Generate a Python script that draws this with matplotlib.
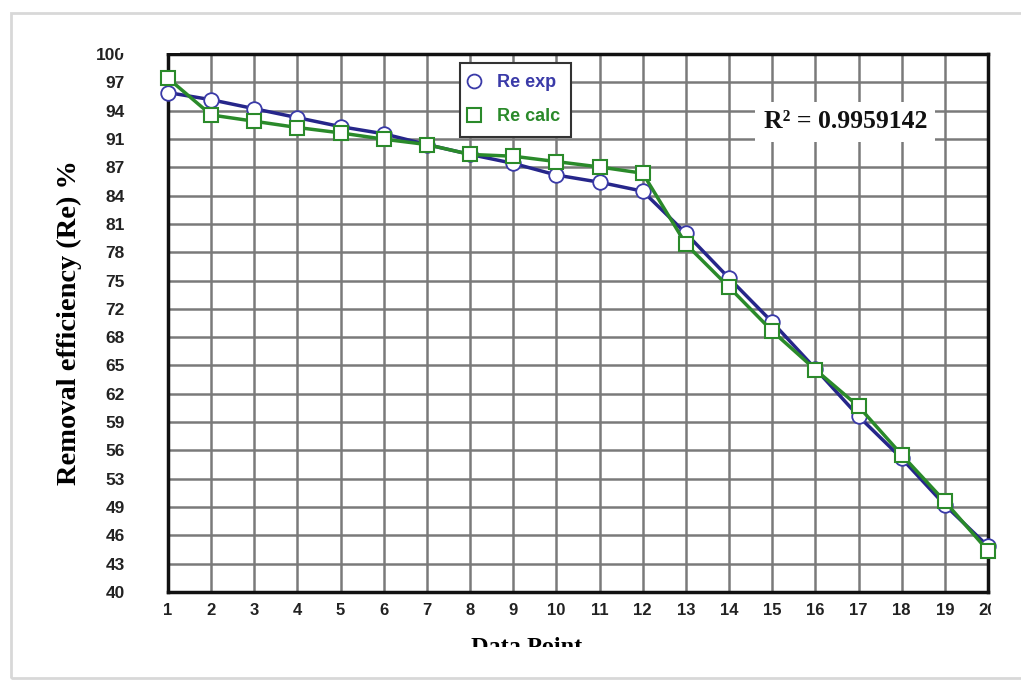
import matplotlib
matplotlib.use('Agg')
import numpy as np
from matplotlib import pyplot as plt
from matplotlib.lines import Line2D
from matplotlib.patches import Rectangle

points = list(range(1, 21))
re_exp = [95.7, 94.9, 93.9, 92.9, 91.9, 91.1, 89.9, 88.8, 87.8, 86.5,
          85.7, 84.7, 80.0, 75.0, 70.1, 64.9, 59.6, 54.9, 49.7, 45.1]
re_calc = [97.3, 93.2, 92.5, 91.8, 91.2, 90.5, 89.9, 88.8, 88.6, 88.0,
           87.4, 86.7, 78.8, 74.0, 69.1, 64.8, 60.7, 55.3, 50.1, 44.6]
ytick_vals = np.linspace(40, 100, 20)
ytick_labels = ['40', '43', '46', '49', '53', '56', '59', '62', '65', '68',
                '72', '75', '78', '81', '84', '87', '91', '94', '97', '100']
r2_text = 'R\u00b2 = 0.9959142'

blue = '#26268a'
green = '#2a8a2a'
sans = ['Liberation Sans', 'DejaVu Sans']
serif = ['Liberation Serif', 'DejaVu Serif']

fig = plt.figure(figsize=(10.21, 6.82), dpi=100)
W, H = 1021, 682
ax = fig.add_axes([168 / W, 1 - 592 / H, (988 - 168) / W, (592 - 54) / H])

ax.plot(points, re_exp, color=blue, lw=2.5, marker='o', ms=10.5,
        mfc='white', mec='#3a3aa8', mew=1.3, zorder=3, clip_on=False)
ax.plot(points, re_calc, color=green, lw=2.5, marker='s', ms=9.5,
        mfc='white', mec=green, mew=1.5, zorder=4, clip_on=False)

ax.set_xlim(1, 20)
ax.set_ylim(40, 100)
ax.set_xticks(points)
ax.set_xticklabels([str(p) for p in points], fontfamily=sans,
                   fontweight='bold', fontsize=12, color='#222222')
ax.set_yticks(ytick_vals)
ax.set_yticklabels(ytick_labels, fontfamily=sans, fontweight='bold',
                   fontsize=12.5, color='#222222')
ax.tick_params(axis='y', length=0, pad=31)
ax.tick_params(axis='x', length=0, pad=8)
ax.grid(True, color='#7a7a7a', lw=1.8)
ax.set_axisbelow(True)
for s in ax.spines.values():
    s.set_linewidth(2.5)
    s.set_color('#111111')

ax.set_ylabel('Removal efficiency (Re) %', fontfamily=serif,
              fontweight='bold', fontsize=20.5, labelpad=10)
fig.text(527 / W, 1 - 637 / H, 'Data Point', ha='center', va='top',
         fontfamily=serif, fontweight='bold', fontsize=17.5)

handles = [Line2D([], [], ls='none', marker='o', ms=10, mfc='white',
                  mec='#3a3aa8', mew=1.3),
           Line2D([], [], ls='none', marker='s', ms=9.5, mfc='white',
                  mec=green, mew=1.5)]
leg = ax.legend(handles, ['Re exp', 'Re calc'], loc='upper left',
                bbox_to_anchor=((460 - 168) / 820, 1 - (63 - 54) / 538),
                borderaxespad=0, frameon=True, fancybox=False, framealpha=1,
                edgecolor='#333333', prop={'family': sans, 'weight': 'bold',
                                           'size': 13},
                handletextpad=1.1, labelspacing=0.95, borderpad=0.62,
                handlelength=0.32)
leg.get_frame().set_linewidth(1.5)
for t, c in zip(leg.get_texts(), ['#3a3aa8', green]):
    t.set_color(c)

ax.text(0.826, 0.874, r2_text, transform=ax.transAxes, ha='center',
        va='center', fontfamily=serif, fontweight='bold', fontsize=18.5,
        color='#111111', zorder=6,
        bbox=dict(facecolor='white', edgecolor='none', pad=6))

# screenshot crop: clipped labels and frame
fig.patches.append(Rectangle((0, 0), 1, 1 - 647 / H, transform=fig.transFigure,
                             facecolor='white', edgecolor='none', zorder=10))
fig.patches.append(Rectangle((991 / W, 1 - 650 / H), 30 / W, 50 / H,
                             transform=fig.transFigure, facecolor='white',
                             edgecolor='none', zorder=10))
fig.patches.append(Rectangle((120 / W, 1 - 53 / H), 60 / W, 30 / H,
                             transform=fig.transFigure, facecolor='white',
                             edgecolor='none', zorder=10))
fig.patches.append(Rectangle((11 / W, 1 - 678 / H), 1.2, (678 - 13) / H,
                             transform=fig.transFigure, facecolor='none',
                             edgecolor='#d8d8d8', lw=2, zorder=11))

fig.savefig('out.png', dpi=100)
